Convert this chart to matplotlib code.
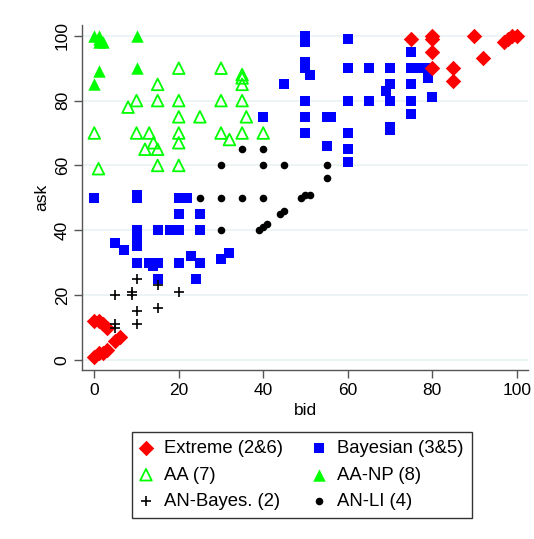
import matplotlib.pyplot as plt
from matplotlib.ticker import FixedLocator

plt.rcParams["font.family"] = ["Liberation Sans", "DejaVu Sans"]

# bid / ask pairs per strategy group
extreme_bid = [75, 80, 80, 90, 97, 98, 99, 100, 80, 92, 80, 85, 85,
               0, 1, 2, 3, 5, 6, 0, 1, 2, 3]
extreme_ask = [99, 100, 99, 100, 98, 99, 100, 100, 95, 93, 90, 90, 86,
               12, 12, 11, 10, 6, 7, 1, 2, 2, 3]

bayes_bid = [50, 50, 60, 50, 50, 51, 45, 60, 65, 50, 60, 65, 40, 50, 55, 56,
             50, 60, 55, 60, 60,
             75, 70, 75, 77, 79, 79, 70, 69, 70, 75, 75, 80, 75, 70, 70,
             0, 10, 10, 20, 22, 20, 25, 10, 10, 10, 15, 18, 20, 25, 5, 7,
             23, 25, 10, 13, 14, 15, 20, 15, 24, 30, 32]
bayes_ask = [100, 98, 99, 92, 90, 88, 85, 90, 90, 80, 80, 80, 75, 75, 75, 75,
             70, 70, 66, 65, 61,
             95, 90, 90, 90, 90, 87, 85, 83, 80, 85, 80, 81, 76, 72, 71,
             50, 51, 50, 50, 50, 45, 45, 40, 38, 35, 40, 40, 40, 40, 36, 34,
             32, 30, 30, 30, 29, 30, 30, 25, 25, 31, 33]

aa_bid = [20, 30, 15, 10, 8, 15, 20, 30, 20, 25, 0, 10, 13, 20, 30, 32,
          14, 20, 12, 15, 1, 15, 20, 35, 35, 35, 35, 36, 35, 40]
aa_ask = [90, 90, 85, 80, 78, 80, 80, 80, 75, 75, 70, 70, 70, 70, 70, 68,
          67, 67, 65, 65, 59, 60, 60, 88, 87, 85, 80, 75, 70, 70]

aanp_bid = [0, 1, 1, 2, 1, 10, 1, 10, 0]
aanp_ask = [100, 100, 99, 98, 98, 100, 89, 90, 85]

anb_bid = [10, 15, 20, 5, 9, 9, 10, 15, 5, 5, 10]
anb_ask = [25, 23, 21, 20, 21, 20, 15, 16, 11, 10, 11]

anli_bid = [30, 35, 40, 40, 45, 55, 55, 25, 30, 30, 35, 40,
            49, 50, 51, 44, 45, 39, 40, 41]
anli_ask = [60, 65, 65, 60, 60, 60, 56, 50, 50, 40, 50, 50,
            50, 51, 51, 45, 46, 40, 41, 42]

ticks = [0, 20, 40, 60, 80, 100]

fig = plt.figure(figsize=(5.34, 5.39), dpi=100)
ax = fig.add_axes([0.1541, 0.3135, 0.8352, 0.640])

bay = ax.scatter(bayes_bid, bayes_ask, marker="s", s=62, color="#0000FF",
                 linewidths=0, zorder=3, label="Bayesian (3&5)")
ext = ax.scatter(extreme_bid, extreme_ask, marker="D", s=62, color="#FF0000",
                 linewidths=0, zorder=3, label="Extreme (2&6)")
aa = ax.scatter(aa_bid, aa_ask, marker="^", s=70, facecolors="none",
                edgecolors="#00FF00", linewidths=1.3, zorder=3, label="AA (7)")
aanp = ax.scatter(aanp_bid, aanp_ask, marker="^", s=80, color="#00FF00",
                  linewidths=0, zorder=3, label="AA-NP (8)")
anb = ax.scatter(anb_bid, anb_ask, marker="+", s=50, color="black",
                 linewidths=1.2, zorder=4, label="AN-Bayes. (2)")
anli = ax.scatter(anli_bid, anli_ask, marker="o", s=30, color="black",
                  linewidths=0, zorder=4, label="AN-LI (4)")

ax.set_xlim(-2.84, 102.75)
ax.set_ylim(-3.1, 103.3)
ax.xaxis.set_major_locator(FixedLocator(ticks))
ax.yaxis.set_major_locator(FixedLocator(ticks))
ax.grid(axis="y", color="#EAF2F3", linewidth=1.2, zorder=0)
ax.set_axisbelow(True)

for side in ["top", "right"]:
    ax.spines[side].set_visible(False)
for side in ["left", "bottom"]:
    ax.spines[side].set_color("#555555")
    ax.spines[side].set_linewidth(1.0)

ax.tick_params(axis="both", direction="out", length=6, width=1,
               color="#555555", labelsize=12.5, pad=3)
for lbl in ax.get_yticklabels():
    lbl.set_rotation(90)
    lbl.set_va("center")

ax.set_xlabel("bid", fontsize=12.5, labelpad=4)
ax.set_ylabel("ask", fontsize=12.5, labelpad=4)

leg = fig.legend(handles=[ext, aa, anb, bay, aanp, anli], ncol=2,
                 loc="upper center", bbox_to_anchor=(0.5655, 0.1985),
                 fontsize=13.3, frameon=True, fancybox=False, edgecolor="black",
                 handlelength=0.6, handletextpad=0.65, columnspacing=1.7,
                 labelspacing=0.5, borderpad=0.45, borderaxespad=0)
leg.get_frame().set_linewidth(1.0)

fig.savefig("out.png", dpi=100)
